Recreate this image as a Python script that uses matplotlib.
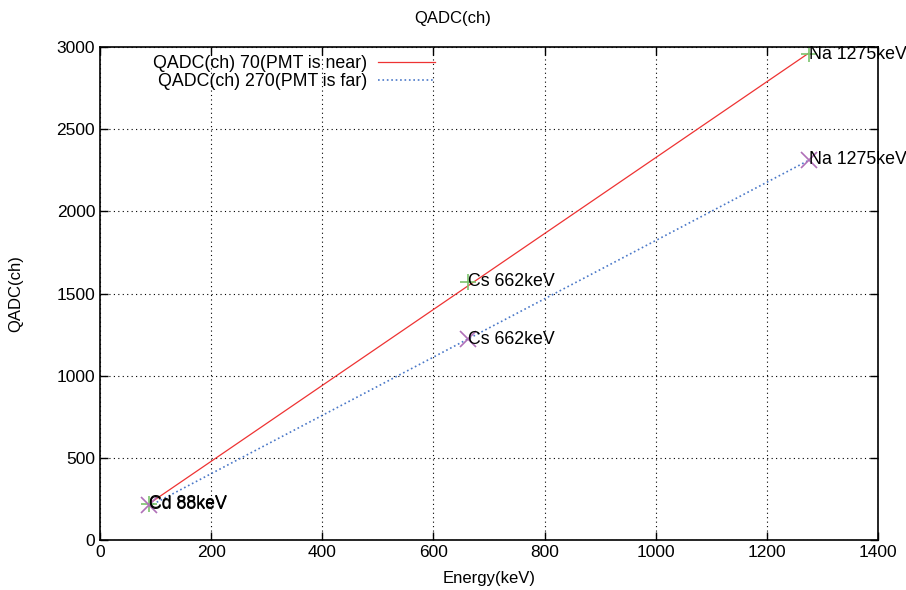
import matplotlib
matplotlib.use('Agg')
import matplotlib.pyplot as plt

plt.rcParams['font.family'] = ['Liberation Sans', 'DejaVu Sans']

# measured points (Energy keV, QADC ch)
energy = [88, 662, 1275]
near_qadc = [221, 1572, 2957]
far_qadc = [213, 1223, 2313]
labels = ['Cd 88keV', 'Cs 662keV', 'Na 1275keV']

# fitted lines, endpoints
fit_x = [88, 1275]
near_fit = [220, 2962]
far_fit = [205, 2310]

fs = 12.8

fig = plt.figure(figsize=(9.06, 5.9), dpi=100)
ax = fig.add_axes([100/906, 1-540/590, 778/906, 493/590])

ax.plot(fit_x, near_fit, '-', color='#ee3333', lw=0.9, label='QADC(ch) 70(PMT is near)')
ax.plot(fit_x, far_fit, ':', color='#4a78c8', lw=1.2, label='QADC(ch) 270(PMT is far)')
ax.plot(energy, near_qadc, '+', color='#7cc46c', ms=11, mew=1.2, ls='none')
ax.plot(energy, far_qadc, 'x', color='#b070b8', ms=11, mew=1.2, ls='none')

for e, q, t in zip(energy, near_qadc, labels):
    ax.text(e, q, t, ha='left', va='center', fontsize=fs, clip_on=False)
for e, q, t in zip(energy, far_qadc, labels):
    ax.text(e, q, t, ha='left', va='center', fontsize=fs, clip_on=False)

ax.set_xlim(0, 1400)
ax.set_ylim(0, 3000)
ax.set_xticks(range(0, 1401, 200))
ax.set_yticks(range(0, 3001, 500))
ax.grid(True, color='black', ls=(0, (1, 3)), lw=0.8)
ax.tick_params(direction='in', top=True, right=True, length=6, width=1, labelsize=12.5)
for s in ax.spines.values():
    s.set_linewidth(1.2)

ax.set_xlabel('Energy(keV)', fontsize=12, labelpad=8)
ax.set_ylabel('QADC(ch)', fontsize=12, labelpad=24)
fig.text(0.5, 1-18/590, 'QADC(ch)', ha='center', va='center', fontsize=12)

leg = ax.legend(loc='upper left', bbox_to_anchor=(0.055, 1.005), frameon=False,
                markerfirst=False, fontsize=fs, handlelength=3.2,
                borderaxespad=0.2, labelspacing=0.05, handletextpad=0.6)
for t in leg.get_texts():
    t.set_ha('right')
leg._legend_box.align = 'right'

fig.savefig('out.png', dpi=100)
